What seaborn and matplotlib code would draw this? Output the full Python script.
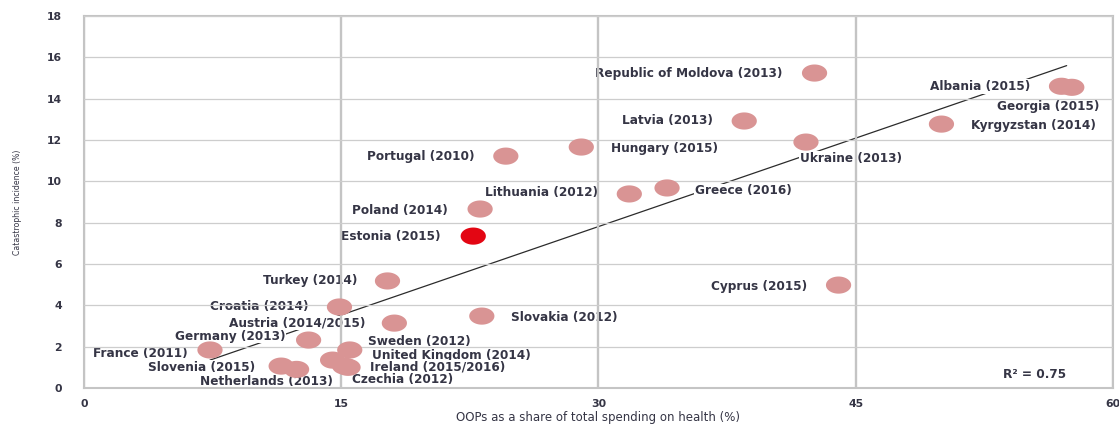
import numpy as np
import pandas as pd
import matplotlib
matplotlib.use("Agg")
import matplotlib.pyplot as plt
import seaborn as sns

# Data
countries = [
    "Republic of Moldova (2013)", "Albania (2015)", "Georgia (2015)", "Latvia (2013)",
    "Kyrgyzstan (2014)", "Ukraine (2013)", "Hungary (2015)", "Portugal (2010)",
    "Lithuania (2012)", "Greece (2016)", "Poland (2014)", "Estonia (2015)",
    "Turkey (2014)", "Cyprus (2015)", "Croatia (2014)", "Slovakia (2012)",
    "Austria (2014/2015)", "Germany (2013)", "France (2011)", "Sweden (2012)",
    "United Kingdom (2014)", "Ireland (2015/2016)", "Czechia (2012)",
    "Slovenia (2015)", "Netherlands (2013)",
]
oop_share = [42.6, 57.0, 57.6, 38.5, 50.0, 42.1, 29.0, 24.6, 31.8, 34.0, 23.1, 22.7,
             17.7, 44.0, 14.9, 23.2, 18.1, 13.1, 7.35, 15.5, 14.5, 15.2, 15.4, 11.5, 12.4]
catastrophic = [15.24, 14.6, 14.55, 12.92, 12.77, 11.9, 11.66, 11.22, 9.39, 9.68, 8.66, 7.35,
                5.18, 4.98, 3.92, 3.48, 3.14, 2.32, 1.84, 1.84, 1.35, 1.06, 1.0, 1.06, 0.9]
highlight = "Estonia (2015)"

trend_x = [7.35, 57.3]
trend_y = [1.35, 15.6]
r_squared = 0.75

x_ticks = [0, 15, 30, 45, 60]
y_ticks = list(range(0, 19, 2))

# label placement: (dx px, dy px downward, ha)
label_offsets = {
    "Republic of Moldova (2013)": (-32, 0, "right"),
    "Albania (2015)": (-31, 0, "right"),
    "Georgia (2015)": (28, 19, "right"),
    "Latvia (2013)": (-31, 0, "right"),
    "Kyrgyzstan (2014)": (30, 1, "left"),
    "Ukraine (2013)": (-6, 16, "left"),
    "Hungary (2015)": (30, 1, "left"),
    "Portugal (2010)": (-31, 0, "right"),
    "Lithuania (2012)": (-31, -1, "right"),
    "Greece (2016)": (28, 3, "left"),
    "Poland (2014)": (-32, 1, "right"),
    "Estonia (2015)": (-33, 0, "right"),
    "Turkey (2014)": (-30, 0, "right"),
    "Cyprus (2015)": (-31, 1, "right"),
    "Croatia (2014)": (-31, 0, "right"),
    "Slovakia (2012)": (29, 1, "left"),
    "Austria (2014/2015)": (-29, 0, "right"),
    "Germany (2013)": (-23, -4, "right"),
    "France (2011)": (-22, 4, "right"),
    "Sweden (2012)": (18, -8, "left"),
    "United Kingdom (2014)": (39, -5, "left"),
    "Ireland (2015/2016)": (25, 1, "left"),
    "Czechia (2012)": (4, 12, "left"),
    "Slovenia (2015)": (-26, 1, "right"),
    "Netherlands (2013)": (36, 12, "right"),
}

df = pd.DataFrame({"country": countries, "oop": oop_share, "cat": catastrophic})
df["group"] = np.where(df["country"] == highlight, "hl", "other")

sns.set_style("white")
plt.rcParams["font.family"] = ["DejaVu Sans"]

text_col = "#353545"
lab_size = 8.7
fig = plt.figure(figsize=(11.19, 4.26), dpi=100)
ax = fig.add_axes([0.075, 0.0892, 0.9196, 0.8732])

# ellipse-shaped marker, wider than tall
t = np.linspace(0, 2 * np.pi, 60)
ellipse = np.column_stack([np.cos(t), 0.68 * np.sin(t)])

sns.lineplot(x=trend_x, y=trend_y, color="#2b2b2b", lw=0.9, ax=ax, zorder=2)
sns.scatterplot(data=df, x="oop", y="cat", hue="group",
                palette={"hl": "#e30613", "other": "#d99494"},
                marker=ellipse, s=330, linewidth=0, legend=False, ax=ax, zorder=3)

for name, x, y in zip(countries, oop_share, catastrophic):
    dx, dy, ha = label_offsets[name]
    ax.annotate(name, (x, y), xytext=(dx, -dy), textcoords="offset pixels",
                ha=ha, va="center", fontsize=lab_size, fontweight="bold", color=text_col,
                zorder=2.2, bbox=dict(fc="white", ec="none", pad=0.5))

ax.text(55.4, 0.63, f"R² = {r_squared}", ha="center", va="center",
        fontsize=lab_size, fontweight="bold", color=text_col)

ax.set_xlim(0, 60)
ax.set_ylim(0, 18)
ax.set_xticks(x_ticks)
ax.set_yticks(y_ticks)
ax.set_axisbelow(False)
ax.grid(axis="x", color="#c4c4c4", lw=1.7)
ax.grid(axis="y", color="#cdcdcd", lw=0.9)
for s in ax.spines.values():
    s.set_color("#c4c4c4")
    s.set_linewidth(1.5)
ax.tick_params(length=0, labelsize=7.8, labelcolor=text_col)
ax.tick_params(axis="y", pad=16)
ax.tick_params(axis="x", pad=8)
for lab in ax.get_xticklabels() + ax.get_yticklabels():
    lab.set_fontweight("bold")

ax.set_xlabel("OOPs as a share of total spending on health (%)", fontsize=8.5,
              color=text_col, labelpad=1)
ax.set_ylabel("Catastrophic incidence (%)", fontsize=5.6,
              color=text_col, labelpad=18)

fig.savefig("out.png", dpi=100)
